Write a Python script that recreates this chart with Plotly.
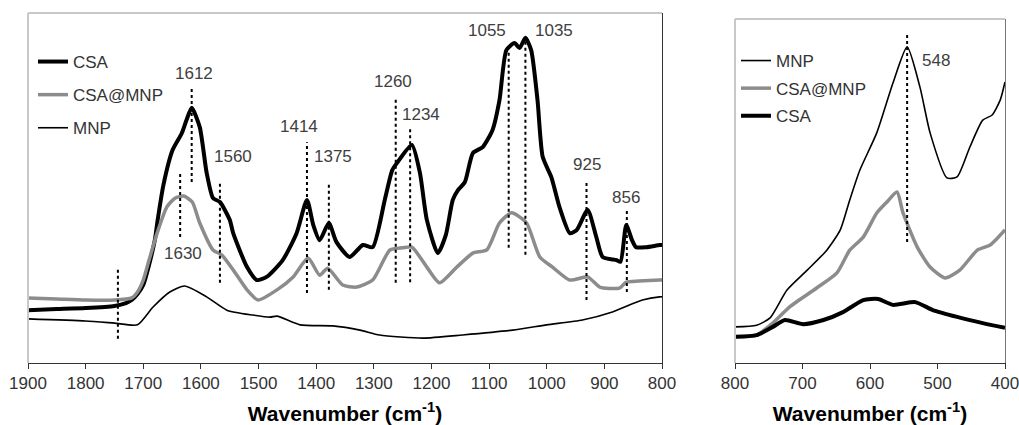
import plotly.graph_objects as go

# ---- spectra, left panel (1900-800 cm-1) ----
wn_csa = [1900, 1850, 1800, 1750, 1730, 1720, 1710, 1700, 1690, 1680, 1675, 1665, 1649, 1633, 1625, 1616,
          1602, 1590, 1579, 1567, 1550, 1544, 1520, 1503, 1486, 1458, 1434, 1416, 1405, 1394, 1378, 1365,
          1342, 1319, 1302, 1281, 1268, 1260, 1234, 1220, 1208, 1189, 1175, 1163, 1154, 1142, 1128, 1111,
          1094, 1082, 1070, 1056, 1047, 1037, 1027, 1016, 1007, 992, 978, 960, 948, 929, 914, 903, 879,
          872, 862, 852, 845, 827, 804, 800]
ab_csa = [15.1, 15.4, 15.7, 16.3, 17.1, 18.0, 19.7, 22.3, 28.0, 35.1, 40.9, 50.9, 60.9, 65.7, 69.4, 72.9,
          67.4, 54.3, 47.1, 46.0, 40.9, 37.1, 27.4, 23.7, 24.6, 29.4, 37.1, 46.6, 39.4, 35.1, 40.0, 34.6,
          30.3, 33.7, 33.1, 46.6, 55.1, 57.1, 62.3, 54.3, 40.9, 31.4, 36.6, 46.6, 49.4, 51.7, 60.0, 61.7,
          66.6, 75.1, 89.4, 91.4, 90.0, 92.9, 89.4, 75.1, 58.9, 53.1, 44.6, 37.1, 38.0, 43.7, 36.0, 30.3,
          29.4, 28.9, 39.4, 35.1, 33.1, 33.1, 33.7, 33.7]

wn_csamnp = [1900, 1850, 1800, 1750, 1720, 1710, 1700, 1690, 1676, 1659, 1645, 1630, 1615, 1602, 1579,
             1564, 1544, 1520, 1501, 1468, 1440, 1414, 1394, 1380, 1354, 1330, 1302, 1272, 1250, 1234,
             1208, 1186, 1156, 1128, 1104, 1082, 1061, 1035, 1012, 990, 960, 929, 908, 874, 862, 840,
             804, 800]
ab_csamnp = [18.6, 18.3, 18.0, 18.0, 18.6, 20.3, 23.7, 29.4, 37.1, 44.6, 47.1, 47.7, 46.0, 40.0, 32.3,
             30.9, 26.6, 20.9, 18.0, 20.9, 24.6, 30.0, 25.1, 27.1, 22.3, 21.7, 23.7, 32.3, 32.9, 33.1,
             27.4, 22.9, 27.4, 31.4, 32.3, 40.0, 42.9, 40.0, 30.3, 27.4, 23.7, 24.6, 21.7, 21.4, 23.1, 23.4,
             23.7, 23.7]

wn_mnp = [1900, 1800, 1750, 1710, 1683, 1654, 1628, 1590, 1555, 1510, 1480, 1468, 1428, 1371, 1324,
          1290, 1215, 1146, 1059, 1000, 938, 886, 834, 804, 800]
ab_mnp = [12.6, 12.0, 11.4, 10.9, 16.0, 20.3, 22.0, 18.9, 15.1, 13.7, 13.1, 13.4, 10.9, 10.6, 9.4,
          8.0, 7.1, 8.0, 9.4, 10.9, 12.3, 14.6, 18.0, 18.9, 18.9]

# ---- spectra, right panel (800-400 cm-1) ----
wn_mnp_r = [800, 768, 748, 723, 693, 664, 644, 630, 615, 590, 566, 545, 526, 511, 486, 471, 452, 433,
            419, 407, 400]
ab_mnp_r = [10.5, 11.0, 13.1, 21.2, 27.0, 32.8, 38.7, 47.4, 56.1, 66.9, 81.4, 91.9, 80.2, 66.9, 53.8,
            54.1, 62.8, 70.6, 72.1, 76.5, 81.7]

wn_csamnp_r = [800, 768, 744, 719, 679, 649, 630, 610, 590, 575, 560, 551, 530, 511, 489, 467, 441,
               422, 400]
ab_csamnp_r = [7.6, 8.1, 11.6, 16.3, 21.8, 26.2, 32.8, 36.6, 43.6, 46.8, 49.7, 43.6, 33.7, 27.9, 24.7,
               27.0, 32.8, 34.3, 38.7]

wn_csa_r = [800, 768, 744, 726, 699, 669, 640, 610, 588, 566, 533, 507, 471, 433, 400]
ab_csa_r = [7.6, 8.1, 10.5, 12.5, 11.3, 12.5, 14.8, 18.3, 18.6, 16.9, 17.7, 15.4, 13.4, 11.6, 10.2]

# ---- marked peaks: (line position, y bottom, y top) and labels ----
peak_x = [1744, 1636, 1616, 1567, 1416, 1378, 1262, 1237, 1066, 1037, 931, 861]
peak_lo = [6.9, 36.0, 51.7, 22.9, 20.0, 20.9, 22.9, 23.1, 32.9, 30.9, 18.0, 20.3]
peak_hi = [27.1, 54.3, 78.6, 51.7, 63.1, 51.7, 75.7, 67.1, 89.4, 92.3, 51.7, 43.7]

label_text = ["1612", "1560", "1414", "1375", "1630", "1260", "1234", "1055", "1035", "925", "856"]
label_x = [1612, 1545, 1430, 1371, 1631, 1267, 1219, 1104, 988, 931, 862]
label_y = [82.6, 58.9, 67.7, 58.9, 31.4, 80.3, 71.1, 95.1, 95.1, 56.6, 47.4]

peak_x_r = [545]
peak_lo_r = [35.2]
peak_hi_r = [95.9]
label_text_r = ["548"]
label_x_r = [502]
label_y_r = [87.8]

W, H = 1019, 425
FONT = "Liberation Sans, Arial, sans-serif"
GRAY = "#8c8c8c"
FRAME = "#c8c8c8"

fig = go.Figure()

# left panel traces (legend order: CSA, CSA@MNP, MNP)
fig.add_trace(go.Scatter(x=wn_csa, y=ab_csa, name="CSA", mode="lines", line_shape="spline",
                         line=dict(color="black", width=4, smoothing=0.6), legendgroup="l1",
                         xaxis="x", yaxis="y"))
fig.add_trace(go.Scatter(x=wn_csamnp, y=ab_csamnp, name="CSA@MNP", mode="lines", line_shape="spline",
                         line=dict(color=GRAY, width=3.5, smoothing=0.6), legendgroup="l2",
                         xaxis="x", yaxis="y"))
fig.add_trace(go.Scatter(x=wn_mnp, y=ab_mnp, name="MNP", mode="lines", line_shape="spline",
                         line=dict(color="black", width=1.6, smoothing=0.6), legendgroup="l3",
                         xaxis="x", yaxis="y"))

# right panel traces (legend order: MNP, CSA@MNP, CSA)
fig.add_trace(go.Scatter(x=wn_mnp_r, y=ab_mnp_r, name="MNP", mode="lines", line_shape="spline",
                         line=dict(color="black", width=1.6, smoothing=0.6), legendgroup="r1",
                         legend="legend2", xaxis="x2", yaxis="y2"))
fig.add_trace(go.Scatter(x=wn_csamnp_r, y=ab_csamnp_r, name="CSA@MNP", mode="lines", line_shape="spline",
                         line=dict(color=GRAY, width=3.5, smoothing=0.6), legendgroup="r2",
                         legend="legend2", xaxis="x2", yaxis="y2"))
fig.add_trace(go.Scatter(x=wn_csa_r, y=ab_csa_r, name="CSA", mode="lines", line_shape="spline",
                         line=dict(color="black", width=4, smoothing=0.6), legendgroup="r3",
                         legend="legend2", xaxis="x2", yaxis="y2"))

# dotted peak markers
for x, lo, hi in zip(peak_x, peak_lo, peak_hi):
    fig.add_shape(type="line", xref="x", yref="y", x0=x, x1=x, y0=lo, y1=hi,
                  line=dict(color="black", width=2, dash="dot"))
for x, lo, hi in zip(peak_x_r, peak_lo_r, peak_hi_r):
    fig.add_shape(type="line", xref="x2", yref="y2", x0=x, x1=x, y0=lo, y1=hi,
                  line=dict(color="black", width=2, dash="dot"))

for t, x, y in zip(label_text, label_x, label_y):
    fig.add_annotation(x=x, y=y, xref="x", yref="y", text=t, showarrow=False,
                       font=dict(size=17, color="#404040", family=FONT))
for t, x, y in zip(label_text_r, label_x_r, label_y_r):
    fig.add_annotation(x=x, y=y, xref="x2", yref="y2", text=t, showarrow=False,
                       font=dict(size=17, color="#404040", family=FONT))

# light left/top frame lines
for xr, yr in (("x domain", "y domain"), ("x2 domain", "y2 domain")):
    fig.add_shape(type="line", xref=xr, yref=yr, x0=0, x1=0, y0=0, y1=1,
                  line=dict(color=FRAME, width=2))
    fig.add_shape(type="line", xref=xr, yref=yr, x0=0, x1=1, y0=1, y1=1,
                  line=dict(color=FRAME, width=2))

xcommon = dict(dtick=100, ticks="outside", ticklen=5, tickcolor="#333", showline=True,
               linecolor="#333", linewidth=1, showgrid=False, zeroline=False, automargin=False,
               ticklabeloverflow="allow",
               tickfont=dict(size=17, color="#333", family=FONT),
               title=dict(text="<b>Wavenumber (cm<sup>-1</sup>)</b>",
                          font=dict(size=21, color="black", family=FONT), standoff=16))
ycommon = dict(showline=True, linewidth=1, showticklabels=False, ticks="", automargin=False,
               showgrid=False, zeroline=False, side="right", range=[0, 100])

fig.update_layout(
    template="none",
    width=W, height=H,
    margin=dict(l=0, r=0, t=0, b=0, autoexpand=False),
    paper_bgcolor="white", plot_bgcolor="white",
    font=dict(family=FONT, color="#333"),
    xaxis=dict(domain=[28 / W, 662 / W], range=[1900, 800], anchor="y", **xcommon),
    yaxis=dict(domain=[62 / H, 412 / H], anchor="x", linecolor="#333", **ycommon),
    xaxis2=dict(domain=[735 / W, 1005 / W], range=[800, 400], anchor="y2", **xcommon),
    yaxis2=dict(domain=[62 / H, 406 / H], anchor="x2", linecolor="#777", **ycommon),
    legend=dict(x=33 / W, y=1 - 44 / H, xanchor="left", yanchor="top", bgcolor="rgba(0,0,0,0)",
                traceorder="grouped", tracegroupgap=8, font=dict(size=17, color="#333", family=FONT)),
    legend2=dict(x=736 / W, y=1 - 43 / H, xanchor="left", yanchor="top", bgcolor="rgba(0,0,0,0)",
                 traceorder="grouped", tracegroupgap=2.5, font=dict(size=17, color="#333", family=FONT)),
)

# the page body has a default 8px margin; drop it so the figure fills the window
fig.write_html("out.html", config={"displayModeBar": False},
               post_script="document.body.style.margin = '0';")
